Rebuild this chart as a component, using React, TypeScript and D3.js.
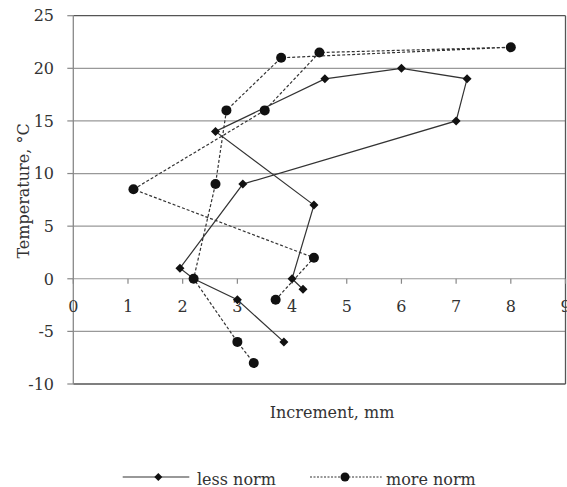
import React from "react";
import * as d3 from "d3";

const lessNormX = [4.2, 4.0, 4.4, 2.6, 4.6, 6.0, 7.2, 7.0, 3.1, 1.95, 2.2, 3.0, 3.85];
const lessNormY = [-1, 0, 7, 14, 19, 20, 19, 15, 9, 1, 0, -2, -6];
const moreNormX = [3.7, 4.4, 1.1, 3.5, 4.5, 8.0, 3.8, 2.8, 2.6, 2.2, 3.0, 3.3];
const moreNormY = [-2, 2, 8.5, 16, 21.5, 22, 21, 16, 9, 0, -6, -8];
const xTicks = [0, 1, 2, 3, 4, 5, 6, 7, 8, 9];
const yTicks = [-10, -5, 0, 5, 10, 15, 20, 25];
const seriesNames = ["less norm", "more norm"];

const W = 567;
const H = 487;
const FONT = "'DejaVu Serif', serif";

export default function App() {
  const x = d3.scaleLinear().domain([0, 9]).range([73.3, 565.5]);
  const y = d3.scaleLinear().domain([-10, 25]).range([384, 15.7]);
  const less = lessNormX.map((v, i) => [v, lessNormY[i]] as [number, number]);
  const more = moreNormX.map((v, i) => [v, moreNormY[i]] as [number, number]);
  const line = d3
    .line<[number, number]>()
    .x((d) => x(d[0]))
    .y((d) => y(d[1]));
  const diamond = (cx: number, cy: number, r = 4.5) =>
    `M${cx},${cy - r}L${cx + r},${cy}L${cx},${cy + r}L${cx - r},${cy}Z`;

  const [x0, x1] = x.range();
  const [yb, yt] = y.range();

  return (
    <svg
      width={W}
      height={H}
      style={{ position: "absolute", left: 0, top: 0, background: "#fff" }}
      fontFamily={FONT}
    >
      {/* gridlines */}
      {yTicks
        .filter((t) => t !== 25 && t !== -10)
        .map((t) => (
          <line key={"g" + t} x1={x0} x2={x1} y1={y(t)} y2={y(t)} stroke="#999" strokeWidth={1.2} />
        ))}
      {/* frame */}
      <line x1={x0} x2={x1} y1={yt} y2={yt} stroke="#555" strokeWidth={1.3} />
      <line x1={x1} x2={x1} y1={yt} y2={yb} stroke="#555" strokeWidth={1.3} />
      <line x1={x0} x2={x1} y1={yb} y2={yb} stroke="#555" strokeWidth={1.3} />
      {/* y axis */}
      <line x1={x0} x2={x0} y1={yt} y2={yb} stroke="#888" strokeWidth={1.3} />
      {yTicks.map((t) => (
        <g key={"yt" + t}>
          <line x1={x0 - 6} x2={x0} y1={y(t)} y2={y(t)} stroke="#888" strokeWidth={1.2} />
          <text x={54} y={y(t)} dy="0.36em" textAnchor="end" fontSize={16} fill="#333">
            {t}
          </text>
        </g>
      ))}
      {/* x axis at y=0 */}
      {xTicks.map((t) => (
        <g key={"xt" + t}>
          <line x1={x(t)} x2={x(t)} y1={y(0)} y2={y(0) + 5} stroke="#888" strokeWidth={1.2} />
          <text x={x(t)} y={312} textAnchor="middle" fontSize={16} fill="#333">
            {t}
          </text>
        </g>
      ))}
      {/* series */}
      <path d={line(more) || ""} fill="none" stroke="#333" strokeWidth={1.2} strokeDasharray="3,2" />
      <path d={line(less) || ""} fill="none" stroke="#333" strokeWidth={1.2} />
      {less.map((d, i) => (
        <path key={"d" + i} d={diamond(x(d[0]), y(d[1]))} fill="#111" />
      ))}
      {more.map((d, i) => (
        <circle key={"c" + i} cx={x(d[0])} cy={y(d[1])} r={5} fill="#111" />
      ))}
      {/* axis titles */}
      <text x={332} y={418} textAnchor="middle" fontSize={16} fill="#333">
        Increment, mm
      </text>
      <text
        transform={`translate(29,191) rotate(-90)`}
        textAnchor="middle"
        fontSize={16}
        fill="#333"
      >
        Temperature, °C
      </text>
      {/* legend */}
      <line x1={122.7} x2={189.3} y1={477} y2={477} stroke="#333" strokeWidth={1.2} />
      <path d={diamond(158.3, 477, 4)} fill="#111" />
      <text x={197} y={484.5} fontSize={16} fill="#333">
        {seriesNames[0]}
      </text>
      <line x1={310} x2={381.7} y1={477} y2={477} stroke="#333" strokeWidth={1.2} strokeDasharray="2,1.5" />
      <circle cx={345} cy={477} r={4.5} fill="#111" />
      <text x={386} y={484.5} fontSize={16} fill="#333">
        {seriesNames[1]}
      </text>
    </svg>
  );
}
